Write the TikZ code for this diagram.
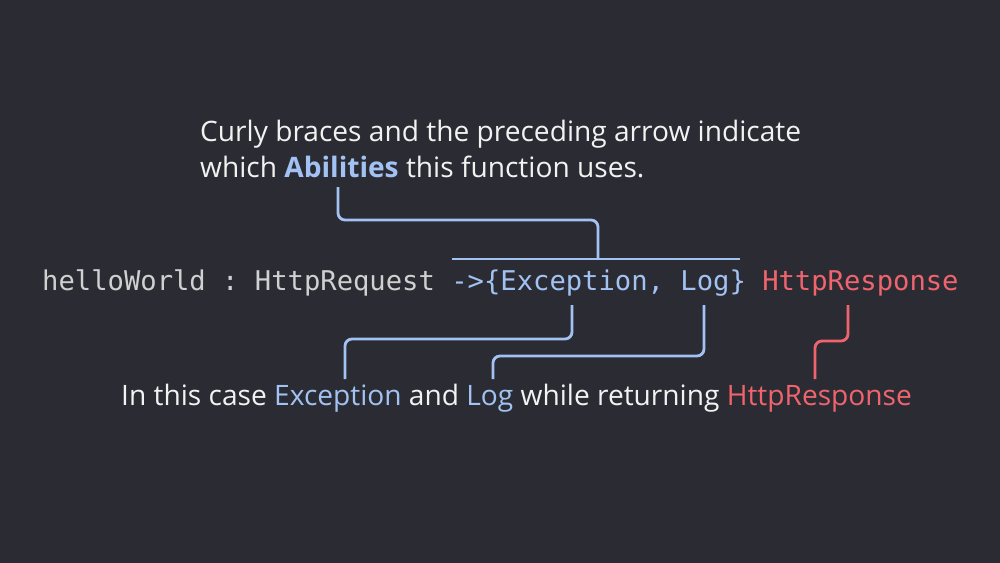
\documentclass[tikz,border=0pt]{standalone}
\usepackage{fontspec}
\setmainfont{Open Sans}
\setmonofont{DejaVu Sans Mono}
\definecolor{bgdark}{HTML}{2B2C33}
\definecolor{abil}{HTML}{A3C2F4}
\definecolor{resp}{HTML}{F0646E}
\definecolor{txt}{HTML}{F2F2F2}
\definecolor{code}{HTML}{D0D0D0}
\tikzset{
  link/.style={abil, line width=2.4pt, rounded corners=6pt},
  rlink/.style={resp, line width=2.4pt, rounded corners=6pt},
  label/.style={inner sep=0pt, anchor=base west, font=\fontsize{24}{28}\selectfont, text=txt},
}
\begin{document}
\begin{tikzpicture}[x=0.03cm, y=-0.03cm]
		\fill [bgdark] (0,0) rectangle (1000,563);
		
		\node [label] (head1) at (200,142) {Curly braces and the preceding arrow indicate};
		\node [label] (head2) at (200,177) {which \textcolor{abil}{\bfseries Abilities} this function uses.};
		
		\node [label, font=\ttfamily\fontsize{23.2}{28}\selectfont, text=code] (sig) at (42,290)
		  {helloWorld : HttpRequest \textcolor{abil}{->\{Exception, Log\}} \textcolor{resp}{HttpResponse}};
		
		\node [label] (foot) at (121,405)
		  {In this case \textcolor{abil}{Exception} and \textcolor{abil}{Log} while returning \textcolor{resp}{HttpResponse}};
		
		\coordinate (bar l) at (452,259);
		\coordinate (bar r) at (740,259);
		\draw [abil, line width=2.4pt] (bar l) -- (bar r);
		\draw [link] (338,187) -- (338,220) -- (598,220) -- (598,259);
		
		\draw [link] (572,305) -- (572,339) -- (345,339) -- (345,379);
		\draw [link] (704,305) -- (704,356) -- (493,356) -- (493,379);
		\draw [rlink] (848,305) -- (848,341) -- (815,341) -- (815,379);
		
		\end{tikzpicture}
\end{document}
